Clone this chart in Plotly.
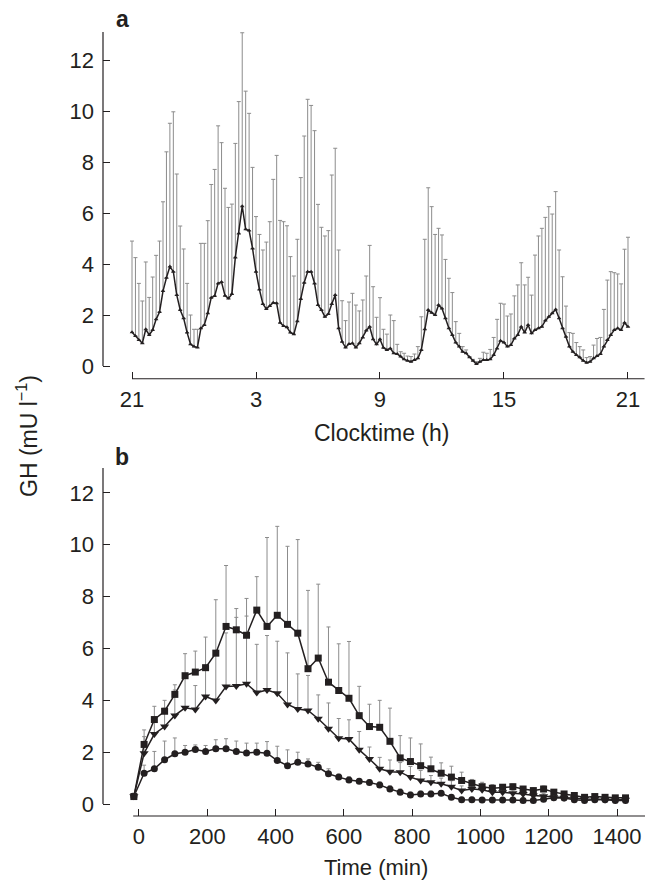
import plotly.graph_objects as go

# ---------------- Panel a : 24-h profile, 10-min sampling from 21:00 ----------------
minutes_a = list(range(0, 1441, 10))  # sampling schedule (min after 21:00)
clock_tickvals = [0, 6, 12, 18, 24]
clock_ticktext = ["21", "3", "9", "15", "21"]

mean_a = [1.32, 1.18, 1.02, 0.89, 1.44, 1.22, 1.41, 1.83, 2.12, 2.94, 3.46, 3.90, 3.70, 2.78, 2.20,
          1.87, 1.31, 0.85, 0.76, 0.73, 1.48, 1.61, 2.07, 2.68, 2.75, 3.24, 3.29, 2.76, 2.65, 2.82,
          4.26, 5.20, 6.27, 5.36, 5.31, 4.61, 3.70, 3.00, 2.43, 2.24, 2.35, 2.48, 2.46, 1.70, 1.57,
          1.52, 1.31, 1.25, 1.76,
          2.63, 3.27, 3.70, 3.70, 3.24, 2.39, 2.20, 1.93, 2.04, 2.43, 2.78, 1.48, 0.95, 0.73, 0.86,
          0.89, 0.73, 0.89, 1.12, 1.39, 1.54, 1.05, 0.85, 1.05, 0.72, 0.63, 0.69, 0.50, 0.47, 0.37,
          0.26, 0.21, 0.17, 0.24, 0.30, 0.63, 1.44, 2.20, 2.09, 2.00, 2.39, 2.26, 1.87, 1.48, 1.22,
          0.92, 0.76, 0.56, 0.50, 0.34, 0.21,
          0.08, 0.17, 0.24, 0.24, 0.26, 0.43, 0.69, 0.99, 0.92, 0.76, 0.82, 1.08, 1.22, 1.54, 1.31,
          1.61, 1.28, 1.41, 1.48, 1.54, 1.78, 1.93, 2.07, 2.22, 1.87, 1.48, 1.15, 0.76, 0.56, 0.43,
          0.34, 0.21, 0.13, 0.17, 0.30, 0.39, 0.47, 0.76, 1.02, 1.22, 1.41, 1.48, 1.41, 1.70, 1.54]

upper_a = [4.90, 4.25, 3.24, 2.55, 4.08, 2.69, 3.49, 4.34, 4.90, 6.44, 8.40, 9.52, 9.97, 7.53, 5.49,
           4.59, 3.24, 2.00, 1.44, 1.44, 4.81, 4.81, 5.70, 7.12, 7.71, 9.42, 8.76, 6.97, 6.22, 6.35,
           8.73, 10.37, 13.07, 10.78, 9.91, 7.79, 5.86, 5.16, 4.55, 4.86, 5.66, 7.32, 8.26, 5.71, 5.66,
           5.50, 4.29, 3.53, 4.97,
           7.39, 9.02, 10.46, 10.22, 9.23, 6.34, 5.44, 5.10, 5.31, 7.49, 8.54, 4.55, 2.56, 1.78, 2.51,
           2.85, 2.39, 2.16, 2.59, 3.53, 4.73, 3.11, 1.91, 2.68, 1.44, 1.25, 2.00, 1.78, 0.85, 0.56,
           0.50, 0.39, 0.37, 0.47, 0.76, 1.93, 4.97, 6.99, 6.25, 5.16, 5.40, 5.14, 4.18, 3.44, 2.88,
           1.74, 1.28, 0.76, 0.63, 0.37, 0.26,
           0.17, 0.30, 0.54, 0.50, 0.65, 1.12, 1.83, 2.46, 2.43, 1.96, 2.04, 2.75, 3.18, 4.05, 3.18,
           3.48, 2.78, 4.35, 5.10, 5.40, 5.83, 6.25, 5.96, 6.84, 4.55, 3.50, 2.35, 1.31, 1.28, 0.92,
           0.76, 0.63, 0.33, 0.37, 0.82, 1.08, 1.12, 2.22, 3.37, 3.70, 3.66, 3.61, 3.22, 4.58, 5.05]

# ---------------- Panel b : three groups, 30-min sampling ----------------
minutes_b = [-15] + list(range(15, 1426, 30))
time_tickvals = [0, 200, 400, 600, 800, 1000, 1200, 1400]

mean_sq = [0.29, 2.30, 3.26, 3.58, 4.23, 4.95, 5.09, 5.26, 5.82, 6.85, 6.72, 6.51, 7.48, 6.85, 7.28,
           6.93, 6.59, 5.22, 5.63, 4.70, 4.38, 4.08, 3.41, 2.99, 2.96, 2.42, 1.78, 1.64, 1.48, 1.36,
           1.19, 1.04, 0.91, 0.80, 0.67, 0.61, 0.65, 0.67, 0.58, 0.52, 0.58, 0.46, 0.39, 0.33, 0.26,
           0.29, 0.26, 0.24, 0.24]
upper_sq = [0.42, 2.86, 3.77, 4.00, 4.60, 5.80, 5.90, 6.44, 7.88, 9.20, 7.54, 7.93, 8.77, 10.28, 10.71,
            9.94, 10.20, 8.24, 8.48, 6.83, 6.18, 6.27, 4.54, 3.85, 4.00, 3.70, 2.64, 2.55, 2.32, 1.81,
            1.59, 1.46, 1.23, 0.95, 0.84, 0.75, 0.75, 0.77, 0.68, 0.62, 0.70, 0.56, 0.48, 0.42, 0.35,
            0.38, 0.34, 0.32, 0.32]

mean_tri = [0.30, 1.96, 2.70, 2.99, 3.42, 3.71, 3.65, 4.15, 3.99, 4.53, 4.55, 4.64, 4.30, 4.40, 4.27,
            3.84, 3.67, 3.61, 3.29, 2.90, 2.54, 2.51, 2.09, 1.74, 1.36, 1.25, 1.23, 1.04, 0.91, 0.84,
            0.78, 0.67, 0.52, 0.58, 0.55, 0.46, 0.46, 0.42, 0.39, 0.33, 0.30, 0.26, 0.24, 0.22, 0.20,
            0.20, 0.18, 0.18, 0.17]
upper_tri = [0.40, 2.60, 3.30, 3.70, 4.40, 4.90, 4.57, 5.30, 5.82, 6.60, 7.20, 7.25, 6.16, 6.50, 6.28,
             5.83, 5.02, 4.96, 4.21, 3.90, 3.30, 3.25, 2.80, 2.20, 1.80, 1.70, 1.60, 1.45, 1.30, 1.10,
             1.00, 0.90, 0.70, 0.75, 0.70, 0.60, 0.58, 0.54, 0.50, 0.44, 0.40, 0.36, 0.33, 0.30, 0.28,
             0.27, 0.25, 0.24, 0.23]

mean_ci = [0.29, 1.19, 1.36, 1.71, 1.94, 2.00, 2.10, 2.03, 2.13, 2.13, 2.03, 1.97, 2.00, 1.96, 1.68,
           1.48, 1.61, 1.55, 1.42, 1.17, 1.04, 0.93, 0.88, 0.83, 0.74, 0.58, 0.46, 0.35, 0.39, 0.39,
           0.42, 0.26, 0.17, 0.17, 0.16, 0.16, 0.16, 0.16, 0.14, 0.14, 0.19, 0.24, 0.23, 0.17, 0.14,
           0.17, 0.17, 0.14, 0.14]
upper_ci = [0.40, 1.50, 2.03, 2.43, 2.55, 2.26, 2.28, 2.26, 2.48, 2.52, 2.43, 2.35, 2.35, 2.41, 2.23,
            2.09, 2.00, 1.74, 1.61, 1.36, 1.15, 1.05, 0.98, 0.93, 0.85, 0.70, 0.58, 0.46, 0.50, 0.50,
            0.52, 0.36, 0.26, 0.26, 0.25, 0.25, 0.25, 0.25, 0.23, 0.23, 0.28, 0.33, 0.32, 0.26, 0.23,
            0.26, 0.26, 0.23, 0.23]

# ---------------- figure ----------------
W, H = 651, 882
FONT = "Liberation Sans, Arial, Helvetica, sans-serif"
INK = "#231f20"
ERR = "#8c8c8c"


def px(x):
    return x / W


def py(y):
    return 1 - y / H


def errs(mean, upper):
    return [u - m for m, u in zip(mean, upper)]


fig = go.Figure()

hours_a = [m / 60 for m in minutes_a]
fig.add_trace(go.Scatter(
    x=hours_a, y=mean_a, mode="lines+markers", xaxis="x", yaxis="y",
    line=dict(color=INK, width=1.5),
    marker=dict(symbol="triangle-up", size=4, color=INK),
    error_y=dict(type="data", symmetric=False, array=errs(mean_a, upper_a),
                 arrayminus=[0] * len(mean_a), color=ERR, thickness=1, width=2),
    showlegend=False))

for mean, upper, sym, size in [(mean_ci, upper_ci, "circle", 7),
                               (mean_tri, upper_tri, "triangle-down", 8),
                               (mean_sq, upper_sq, "square", 7)]:
    fig.add_trace(go.Scatter(
        x=minutes_b, y=mean, mode="lines+markers", xaxis="x2", yaxis="y2",
        line=dict(color=INK, width=1.5),
        marker=dict(symbol=sym, size=size, color=INK),
        error_y=dict(type="data", symmetric=False, array=errs(mean, upper),
                     arrayminus=[0] * len(mean), color=ERR, thickness=1, width=2),
        showlegend=False))

tickfont = dict(family=FONT, size=22, color=INK)
common_x = dict(showgrid=False, zeroline=False, showline=False, ticks="inside", ticklen=7,
                tickwidth=1.2, tickcolor=INK, tickfont=tickfont, ticklabelstandoff=5)
common_y = dict(showgrid=False, zeroline=False, showline=False, ticks="inside", ticklen=7,
                tickwidth=1.2, tickcolor=INK, tickfont=tickfont, ticklabelstandoff=8,
                tickvals=[0, 2, 4, 6, 8, 10, 12])

fig.update_layout(
    width=W, height=H, margin=dict(l=0, r=0, t=0, b=0),
    paper_bgcolor="white", plot_bgcolor="white",
    xaxis=dict(domain=[px(103), px(648)], range=[-1.403, 24.968], anchor="y",
               tickvals=clock_tickvals, ticktext=clock_ticktext, **common_x),
    yaxis=dict(domain=[py(378.75), py(32)], range=[-0.5, 13.1], anchor="x", **common_y),
    xaxis2=dict(domain=[px(103), px(648)], range=[-105.4, 1490.8], anchor="y2",
                tickvals=time_tickvals, **common_x),
    yaxis2=dict(domain=[py(816), py(468)], range=[-0.46, 12.96], anchor="x2", **common_y),
)

axis_line = dict(color=INK, width=1.2)
fig.add_shape(type="line", xref="x", yref="y domain", x0=0, x1=24.8, y0=0, y1=0, line=axis_line)
fig.add_shape(type="line", xref="x domain", yref="y", x0=0, x1=0, y0=0, y1=13.1, line=axis_line)
fig.add_shape(type="line", xref="x2", yref="y2 domain", x0=-17, x1=1482, y0=0, y1=0, line=axis_line)
fig.add_shape(type="line", xref="x2 domain", yref="y2", x0=0, x1=0, y0=0, y1=12.96, line=axis_line)

title_font = dict(family=FONT, size=23, color=INK)
bold_font = dict(family=FONT, size=23, color=INK)
annots = [
    dict(text="<b>a</b>", x=px(123), y=py(19), font=bold_font, yanchor="middle"),
    dict(text="<b>b</b>", x=px(122), y=py(457), font=bold_font, yanchor="middle"),
    dict(text="Clocktime (h)", x=px(381), y=py(433), font=title_font, yanchor="middle"),
    dict(text="Time (min)", x=px(376), y=py(867), font=dict(family=FONT, size=22, color=INK),
         yanchor="middle"),
    dict(text="GH (mU l<sup>\u22121</sup>)", x=px(27), y=py(436), textangle=-90,
         font=title_font, yanchor="middle"),
]
for a in annots:
    fig.add_annotation(xref="paper", yref="paper", showarrow=False, xanchor="center", **a)

# remove the default 8px page margin so the figure fills the 651x882 window exactly
fig.write_html("out.html",
               config={"displayModeBar": False},
               post_script="document.body.style.margin='0';document.body.style.overflow='hidden';")
